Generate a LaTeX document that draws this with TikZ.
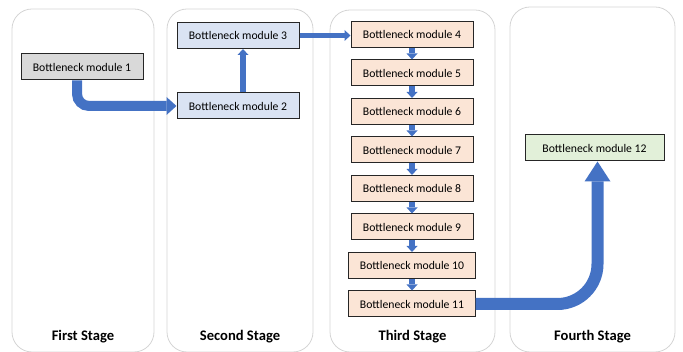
\documentclass[tikz,border=0pt]{standalone}
\usepackage{fontspec}
\setmainfont{Carlito}
\usetikzlibrary{positioning,arrows.meta}
\definecolor{flowblue}{RGB}{68,114,196}
\definecolor{greyfill}{RGB}{217,217,217}
\definecolor{bluefill}{RGB}{218,227,243}
\definecolor{peachfill}{RGB}{251,229,214}
\definecolor{greenfill}{RGB}{226,240,217}
\begin{document}
\begin{tikzpicture}[x=1pt,y=-1pt,
	stage/.style={draw=black!17, line width=0.8pt, rounded corners=20pt},
	stagename/.style={font=\fontsize{14.6}{17}\selectfont\bfseries},
	module/.style={draw=black!85, line width=1pt, minimum height=26pt,
		minimum width=122pt, inner xsep=11pt, font=\fontsize{11.7}{14}\selectfont},
	bigflow/.style={draw=flowblue, line width=10pt,
		-{Triangle[width=18pt,length=10pt,line width=0pt]}},
	smallflow/.style={draw=flowblue, line width=5.5pt,
		-{Triangle[width=11pt,length=6pt,line width=0pt]}}]
\useasboundingbox (0,0) rectangle (683,352);

\draw[stage] (12,9) rectangle (154,352);
\draw[stage] (167,9) rectangle (313,352);
\draw[stage] (330,10) rectangle (495,352);
\draw[stage] (510,7) rectangle (675,352);

\node[stagename] (l1) at (83,337) {First Stage};
\node[stagename] (l2) at (240,337) {Second Stage};
\node[stagename] (l3) at (412.5,337) {Third Stage};
\node[stagename] (l4) at (592.5,337) {Fourth Stage};

\node[module, fill=greyfill] (m1) at (82,67) {Bottleneck module 1};
\node[module, fill=bluefill] (m2) at (238,106) {Bottleneck module 2};
\node[module, fill=bluefill] (m3) at (238,35.5) {Bottleneck module 3};
\node[module, fill=peachfill] (m4) at (412,34.5) {Bottleneck module 4};
\foreach \i [remember=\i as \prev (initially 4)] in {5,...,11}
	\node[module, fill=peachfill, below=11.5pt of m\prev] (m\i) {Bottleneck module \i};
\node[module, fill=greenfill, minimum width=139pt] (m12) at (594.5,148) {Bottleneck module 12};

\draw[bigflow, rounded corners=12pt] ([xshift=-5pt]m1.south) |- (m2.west);
\draw[smallflow] ([xshift=5pt]m2.north) -- ([xshift=5pt]m3.south);
\draw[smallflow] (m3.east) -- (m3.east -| m4.west);
\foreach \i [remember=\i as \prev (initially 4)] in {5,...,11}
	\draw[smallflow] (m\prev) -- (m\i);
\draw[draw=flowblue, line width=12pt, rounded corners=40pt,
	-{Triangle[width=26pt,length=20pt,line width=0pt]}]
	(m11.east) -| ([xshift=3pt]m12.south);
\end{tikzpicture}
\end{document}
